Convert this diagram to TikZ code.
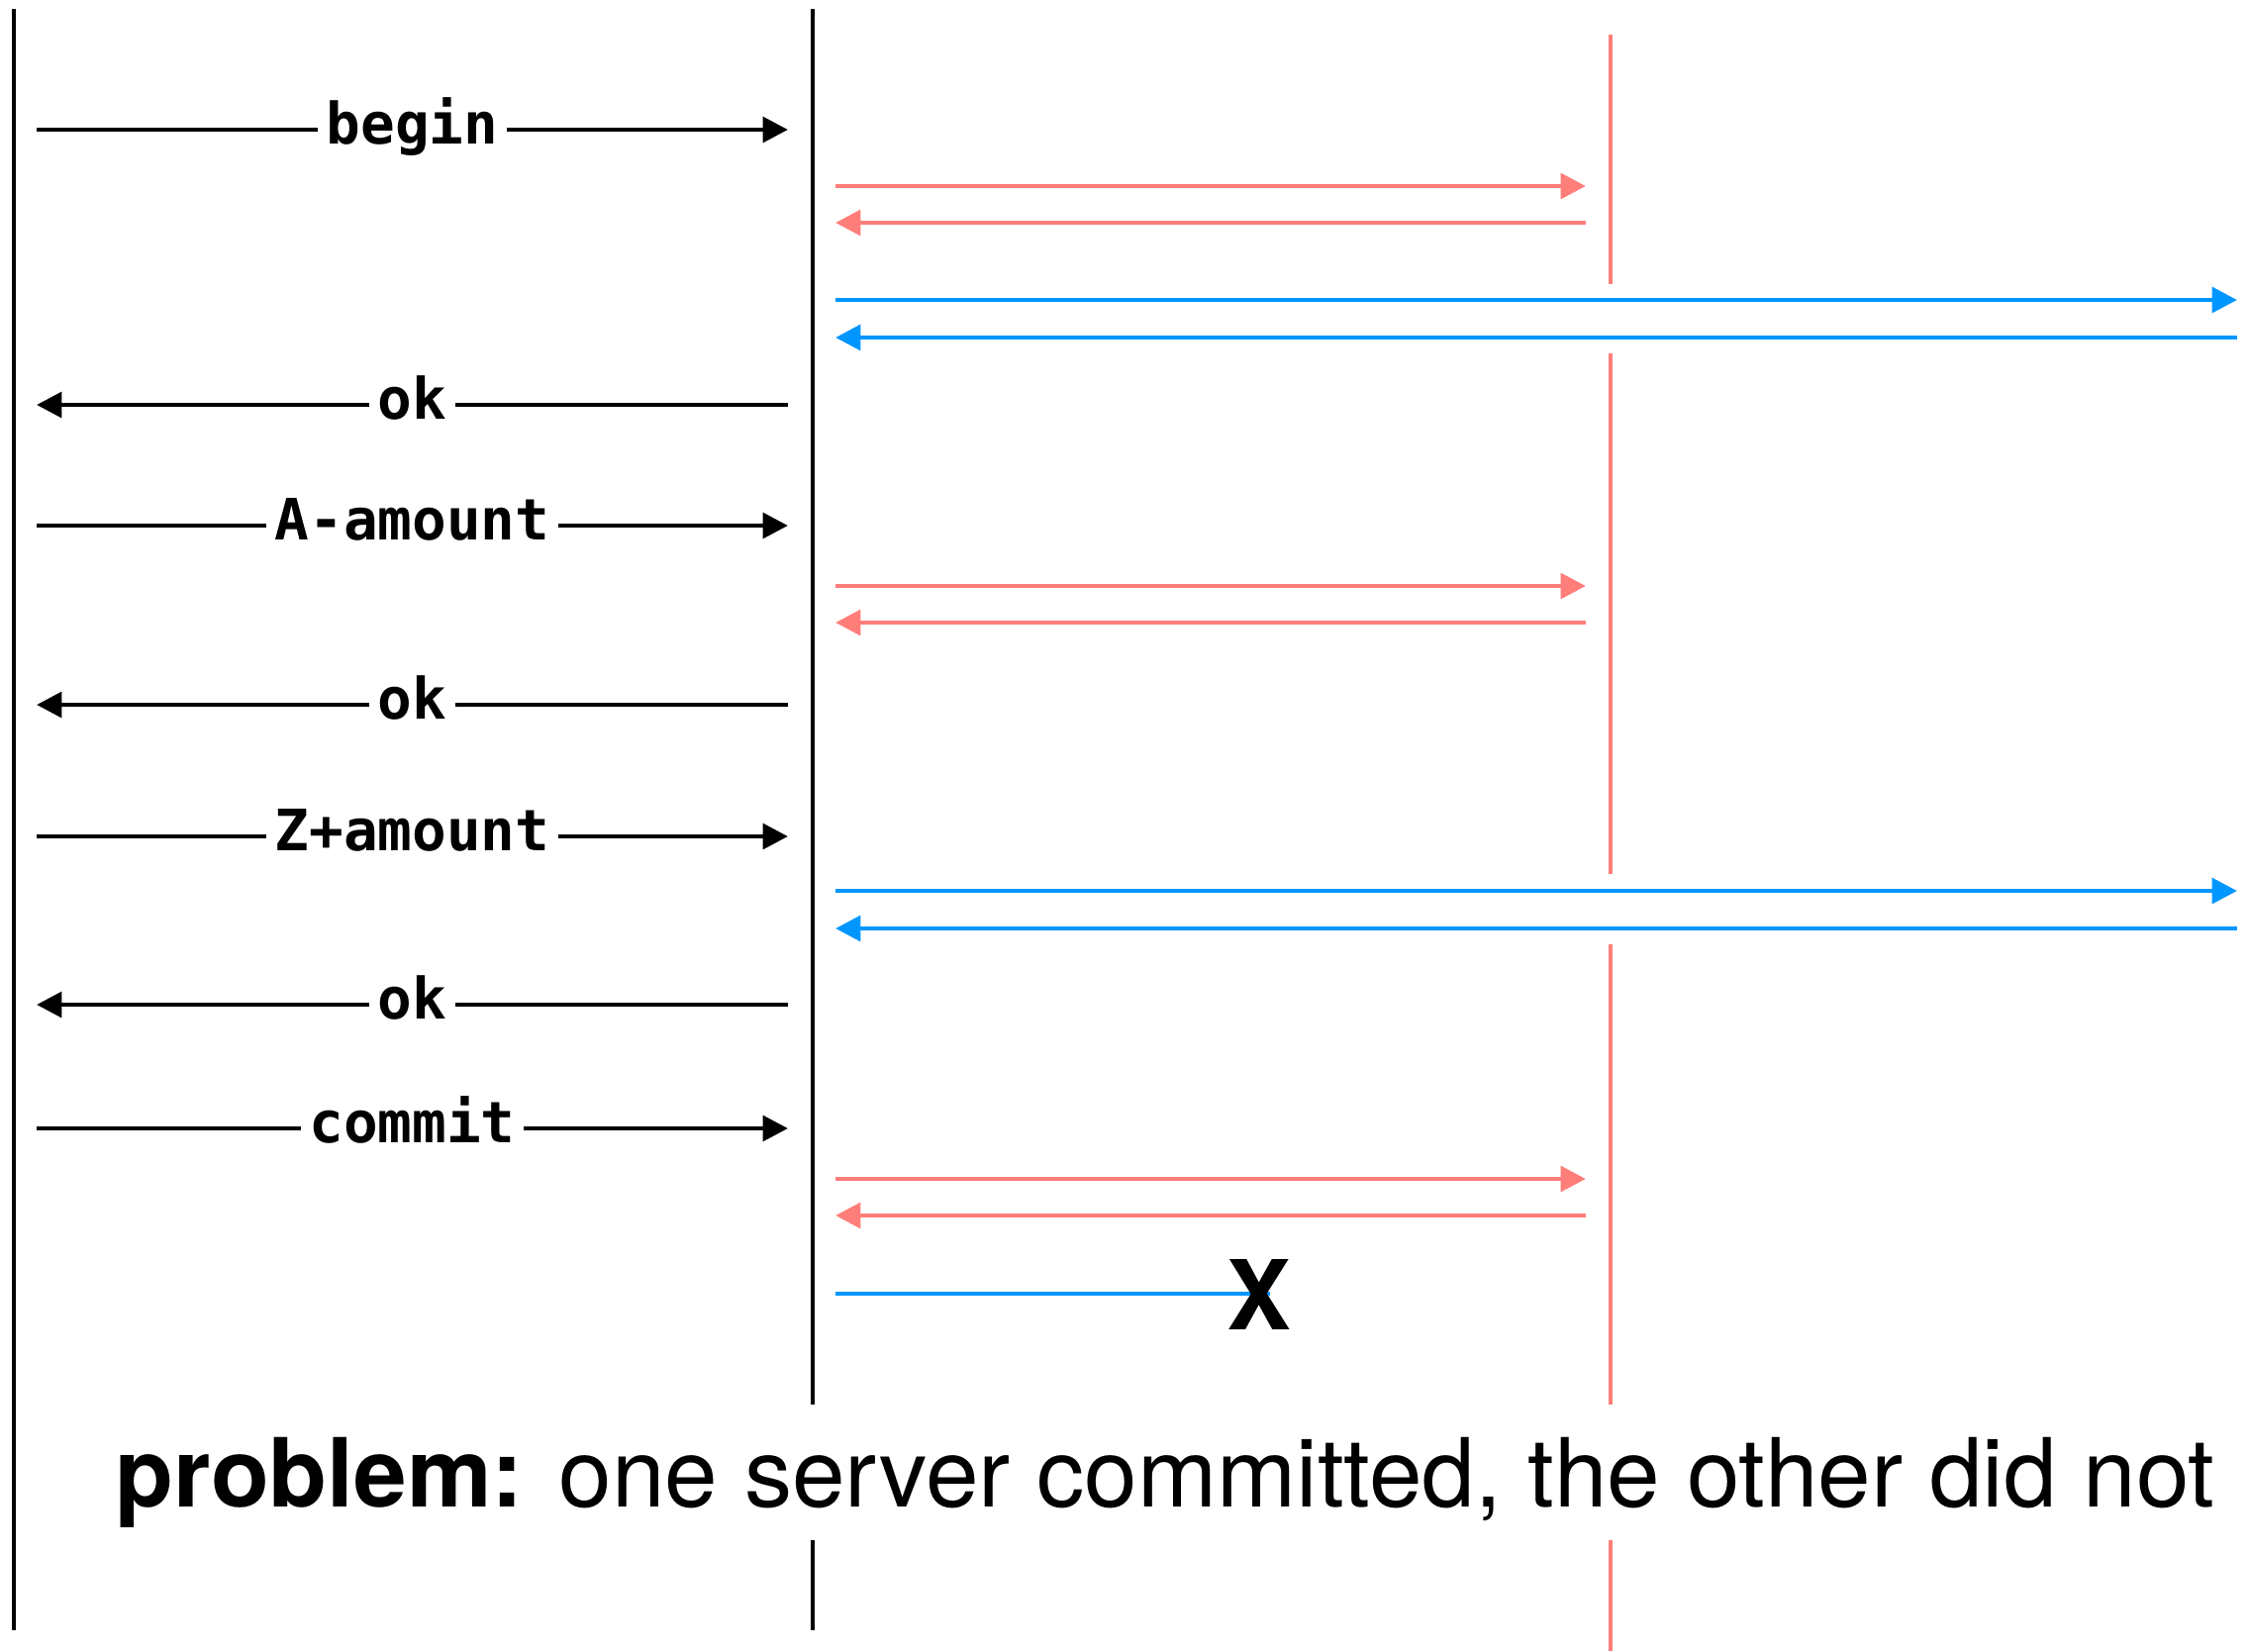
\documentclass[tikz,border=0pt]{standalone}
\usepackage{fontspec}
\setmainfont{TeX Gyre Heros}
\newfontfamily\codefont{DejaVu Sans Mono}
\usepackage{tikz}
\usetikzlibrary{arrows.meta}

\definecolor{salmon}{RGB}{255,126,121}
\definecolor{aqua}{RGB}{0,150,255}

\tikzset{
	lifeline/.style={line width=1.4pt},
	msg/.style={line width=1.4pt},
	fwd/.style={-{Triangle[length=7.2pt,width=7.2pt]}},
	bwd/.style={{Triangle[length=7.2pt,width=7.2pt]}-},
	lbl/.style={fill=white,inner xsep=2.5pt,inner ysep=0pt,text height=12.3pt,text depth=4.1pt,
		font=\fontsize{16.4}{18}\selectfont\codefont\bfseries},
}

\begin{document}
\begin{tikzpicture}[x=0.01cm,y=-0.01cm]
			\useasboundingbox (0,0) rectangle (2274,1668);
			% lifelines
			\draw[lifeline] (14,9) -- (14,1647);
			\draw[lifeline] (821,9) -- (821,1647);
			\draw[lifeline,salmon] (1627,35) -- (1627,287) (1627,357) -- (1627,883) (1627,954) -- (1627,1668);
			% client <-> coordinator
			\foreach \y/\t/\d in {131/begin/fwd,409/ok/bwd,531/A-amount/fwd,712/ok/bwd,845/Z+amount/fwd,1015/ok/bwd,1140/commit/fwd}{
				\coordinate (c\y) at (37,\y);
				\coordinate (k\y) at (796,\y);
				\draw[msg,\d] (c\y) -- node[lbl] (m\y) {\t} (k\y);
			}
			% coordinator <-> server A
			\foreach \y/\z in {188/225,592/629,1191/1228}{
				\coordinate (ka\y) at (844,\y);
				\coordinate (sa\y) at (1602,\y);
				\coordinate (ka\z) at (844,\z);
				\coordinate (sa\z) at (1602,\z);
				\draw[msg,salmon,fwd] (ka\y) -- (sa\y);
				\draw[msg,salmon,bwd] (ka\z) -- (sa\z);
			}
			% coordinator <-> server Z
			\foreach \y/\z in {303/341,900/938}{
				\coordinate (kz\y) at (844,\y);
				\coordinate (sz\y) at (2260,\y);
				\coordinate (kz\z) at (844,\z);
				\coordinate (sz\z) at (2260,\z);
				\draw[msg,aqua,fwd] (kz\y) -- (sz\y);
				\draw[msg,aqua,bwd] (kz\z) -- (sz\z);
			}
			% lost commit
			\coordinate (kz1307) at (844,1307);
			\coordinate (lost) at (1283,1307);
			\draw[msg,aqua] (kz1307) -- (lost);
			\node[inner sep=0pt,font=\fontsize{27.7}{33}\selectfont\bfseries] (cross) at (1272,1308) {X};
			\node[anchor=base west,fill=white,inner sep=0pt,text height=1.03cm,text depth=0.34cm,
				font=\fontsize{27.4}{33}\selectfont] (note) at (116,1522)
				{\textbf{problem:} one server committed, the other did not};
\end{tikzpicture}
\end{document}
